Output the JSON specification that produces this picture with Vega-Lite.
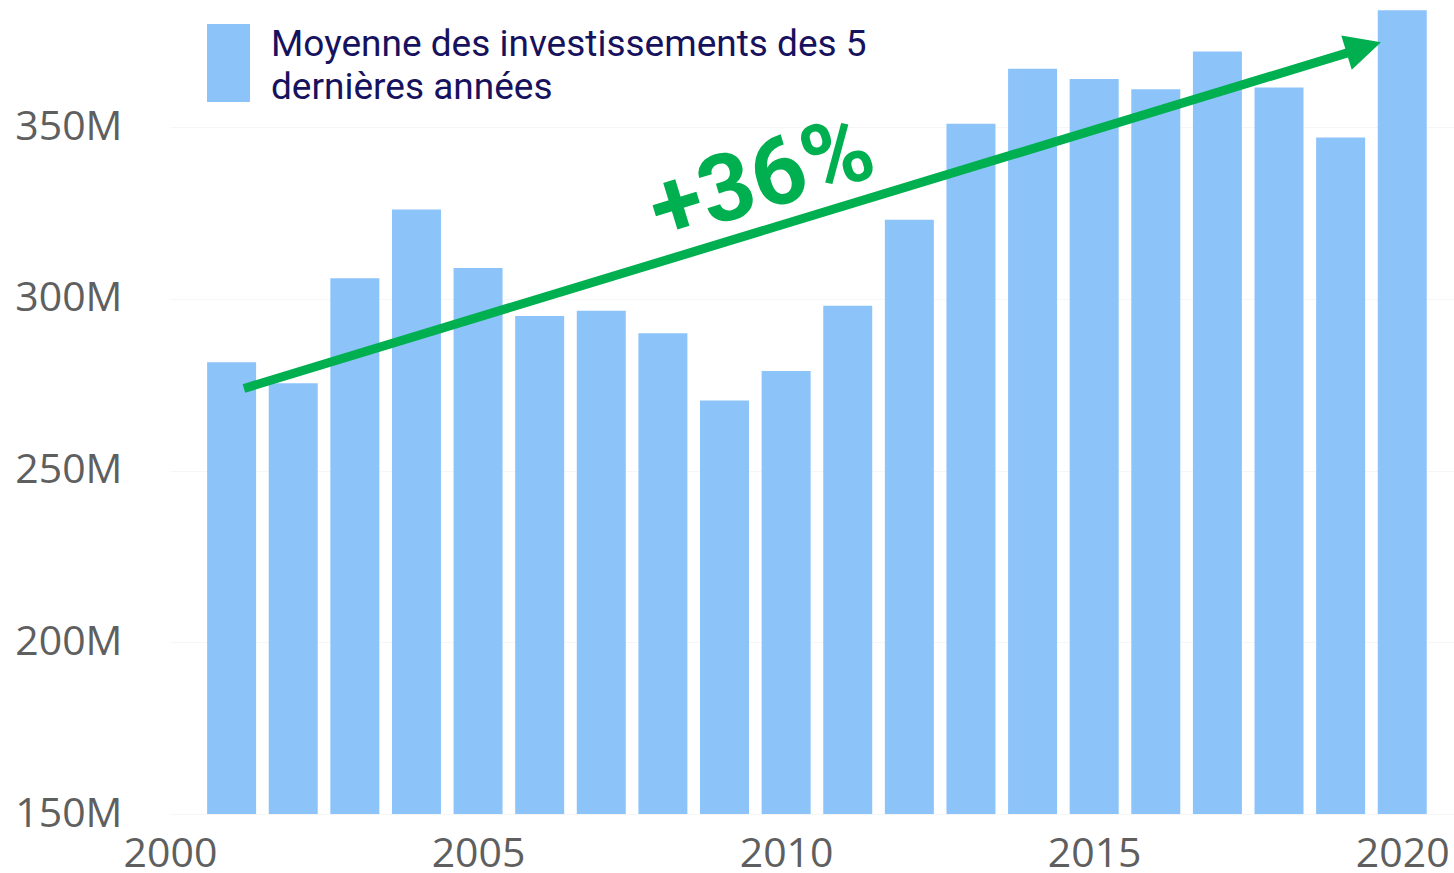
{
  "$schema": "https://vega.github.io/schema/vega-lite/v6.json",
  "autosize": "none",
  "width": 1284,
  "height": 814,
  "padding": {"left": 170, "top": 0, "right": 0, "bottom": 59},
  "background": "white",
  "config": {
    "view": {"stroke": null},
    "font": "Open Sans",
    "style": {"guide-label": {"lineHeight": 43}}
  },
  "layer": [
    {
      "data": {
        "values": [
          {"annee": 2001, "valeur": 281.5, "serie": "Moyenne des investissements des 5 dernières années"},
          {"annee": 2002, "valeur": 275.4, "serie": "Moyenne des investissements des 5 dernières années"},
          {"annee": 2003, "valeur": 306, "serie": "Moyenne des investissements des 5 dernières années"},
          {"annee": 2004, "valeur": 326, "serie": "Moyenne des investissements des 5 dernières années"},
          {"annee": 2005, "valeur": 309, "serie": "Moyenne des investissements des 5 dernières années"},
          {"annee": 2006, "valeur": 295, "serie": "Moyenne des investissements des 5 dernières années"},
          {"annee": 2007, "valeur": 296.5, "serie": "Moyenne des investissements des 5 dernières années"},
          {"annee": 2008, "valeur": 290, "serie": "Moyenne des investissements des 5 dernières années"},
          {"annee": 2009, "valeur": 270.4, "serie": "Moyenne des investissements des 5 dernières années"},
          {"annee": 2010, "valeur": 279, "serie": "Moyenne des investissements des 5 dernières années"},
          {"annee": 2011, "valeur": 298, "serie": "Moyenne des investissements des 5 dernières années"},
          {"annee": 2012, "valeur": 323, "serie": "Moyenne des investissements des 5 dernières années"},
          {"annee": 2013, "valeur": 351, "serie": "Moyenne des investissements des 5 dernières années"},
          {"annee": 2014, "valeur": 367, "serie": "Moyenne des investissements des 5 dernières années"},
          {"annee": 2015, "valeur": 364, "serie": "Moyenne des investissements des 5 dernières années"},
          {"annee": 2016, "valeur": 361, "serie": "Moyenne des investissements des 5 dernières années"},
          {"annee": 2017, "valeur": 372, "serie": "Moyenne des investissements des 5 dernières années"},
          {"annee": 2018, "valeur": 361.5, "serie": "Moyenne des investissements des 5 dernières années"},
          {"annee": 2019, "valeur": 347, "serie": "Moyenne des investissements des 5 dernières années"},
          {"annee": 2020, "valeur": 384, "serie": "Moyenne des investissements des 5 dernières années"}
        ]
      },
      "mark": {"type": "bar", "width": 49, "clip": true},
      "encoding": {
        "x": {
          "field": "annee",
          "type": "quantitative",
          "scale": {"domain": [2000, 2020.84], "nice": false, "zero": false, "padding": 0},
          "axis": {
            "values": [2000, 2005, 2010, 2015, 2020],
            "format": "d",
            "title": null,
            "domain": false,
            "ticks": false,
            "grid": false,
            "labelFont": "Open Sans",
            "labelFontSize": 41,
            "labelColor": "#5f5f5f",
            "labelPadding": 20,
            "labelFlush": false,
            "labelOverlap": false
          }
        },
        "y": {
          "field": "valeur",
          "type": "quantitative",
          "scale": {"domain": [150, 387], "nice": false, "zero": false, "padding": 0},
          "axis": {
            "values": [150, 200, 250, 300, 350],
            "labelExpr": "datum.value + 'M'",
            "title": null,
            "domain": false,
            "ticks": false,
            "grid": true,
            "gridColor": "#f6f6f6",
            "gridWidth": 1,
            "labelFont": "Open Sans",
            "labelFontSize": 41,
            "labelColor": "#5f5f5f",
            "labelPadding": 48,
            "labelOverlap": false
          }
        },
        "color": {
          "field": "serie",
          "type": "nominal",
          "scale": {"range": ["#8cc4fa"]},
          "legend": {
            "title": null,
            "orient": "none",
            "legendX": 19.5,
            "legendY": 5.7,
            "padding": 0,
            "symbolType": "M-0.551,-0.53H0.551V1.47H-0.551Z",
            "symbolSize": 6084,
            "symbolStrokeWidth": 0,
            "labelFont": "Roboto",
            "labelFontSize": 37,
            "labelColor": "#17125e",
            "labelLimit": 2000,
            "labelOffset": 3.5,
            "labelExpr": "['Moyenne des investissements des 5', 'dernières années']"
          }
        }
      }
    },
    {
      "data": {"values": [{"debut": 2001.2, "fin": 2019.11, "v0": 273.9, "v1": 371.6}]},
      "mark": {"type": "rule", "color": "#00b050", "strokeWidth": 9, "strokeCap": "butt"},
      "encoding": {
        "x": {"field": "debut", "type": "quantitative"},
        "x2": {"field": "fin"},
        "y": {"field": "v0", "type": "quantitative"},
        "y2": {"field": "v1"}
      }
    },
    {
      "data": {"values": [{"annee": 2019.375, "valeur": 373.2}]},
      "mark": {"type": "point", "shape": "M-1,-1L1,0L-1,1Z", "size": 1296, "angle": -16.9, "filled": true, "color": "#00b050", "opacity": 1, "strokeWidth": 0},
      "encoding": {
        "x": {"field": "annee", "type": "quantitative"},
        "y": {"field": "valeur", "type": "quantitative"}
      }
    },
    {
      "data": {"values": [{"annee": 2009.61, "valeur": 334.2, "etiquette": "+36%"}]},
      "mark": {"type": "text", "font": "Roboto", "fontWeight": "bold", "fontSize": 94, "color": "#00b050", "angle": -17, "align": "center", "baseline": "middle"},
      "encoding": {
        "x": {"field": "annee", "type": "quantitative"},
        "y": {"field": "valeur", "type": "quantitative"},
        "text": {"field": "etiquette"}
      }
    }
  ]
}
